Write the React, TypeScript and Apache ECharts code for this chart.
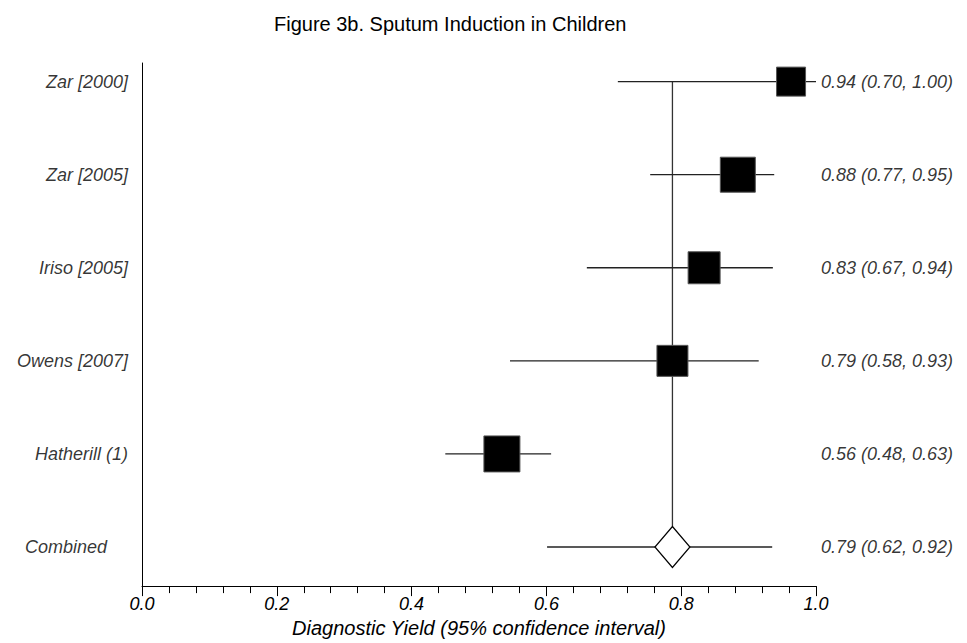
import React, { useEffect, useRef } from "react";
import * as echarts from "echarts";

// ---- data ----
const studies = ["Zar [2000]", "Zar [2005]", "Iriso [2005]", "Owens [2007]", "Hatherill (1)"];
const estimates = [0.963, 0.884, 0.834, 0.787, 0.534];
const lowerCI = [0.706, 0.754, 0.66, 0.546, 0.45];
const upperCI = [1.0, 0.938, 0.936, 0.915, 0.607];
const weights = [29, 35, 32, 31, 36];
const ciLabels = [
  "0.94 (0.70, 1.00)",
  "0.88 (0.77, 0.95)",
  "0.83 (0.67, 0.94)",
  "0.79 (0.58, 0.93)",
  "0.56 (0.48, 0.63)",
];
const combinedName = "Combined";
const combinedEstimate = 0.787;
const combinedLower = 0.601;
const combinedUpper = 0.935;
const combinedLabel = "0.79 (0.62, 0.92)";
const xMin = 0;
const xMax = 1.0;
const xInterval = 0.2;

const FONT = "'Liberation Sans', Arial, sans-serif";

export default function App() {
  const ref = useRef<HTMLDivElement>(null);

  useEffect(() => {
    document.body.style.margin = "0";
    if (!ref.current) return;
    const chart = echarts.init(ref.current, null, { renderer: "svg" });

    const allNames = [...studies, combinedName];
    const allLabels = [...ciLabels, combinedLabel];
    const combinedRow = studies.length;

    const studyData = studies.map((_, i) => [estimates[i], lowerCI[i], upperCI[i], i, weights[i]]);
    const combinedData = [[combinedEstimate, combinedLower, combinedUpper, combinedRow]];

    const labelStyle = {
      fontFamily: FONT,
      fontStyle: "italic",
      fontSize: 18,
      color: "#000",
    };

    const option: any = {
      animation: false,
      backgroundColor: "#fff",
      title: {
        text: "Figure 3b. Sputum Induction in Children",
        left: 269,
        top: 9,
        textStyle: { fontFamily: FONT, fontSize: 20, fontWeight: "normal", color: "#000" },
      },
      grid: { left: 142, right: 151, top: 63, bottom: 55 },
      xAxis: {
        type: "value",
        position: "bottom",
        min: xMin,
        max: xMax,
        interval: xInterval,
        axisLine: { show: true, onZero: false, lineStyle: { color: "#000", width: 1 } },
        axisTick: { show: true, length: 10, lineStyle: { color: "#000" } },
        minorTick: { show: true, splitNumber: 5, length: 7, lineStyle: { color: "#000" } },
        splitLine: { show: false },
        axisLabel: { ...labelStyle, margin: 9, formatter: (v: number) => v.toFixed(1) },
        name: "Diagnostic Yield (95% confidence interval)",
        nameLocation: "middle",
        nameGap: 30,
        nameTextStyle: { ...labelStyle, fontSize: 20 },
      },
      yAxis: {
        type: "value",
        inverse: true,
        min: -0.2,
        max: 5.42,
        axisLine: { show: true, onZero: false, lineStyle: { color: "#000", width: 1 } },
        axisTick: { show: false },
        axisLabel: { show: false },
        splitLine: { show: false },
      },
      series: [
        {
          type: "custom",
          z: 2,
          clip: false,
          data: combinedData,
          encode: { x: [0, 1, 2], y: 3 },
          renderItem: (params: any, api: any) => {
            const row = api.value(3);
            const est = api.coord([api.value(0), row]);
            const lo = api.coord([api.value(1), row]);
            const hi = api.coord([api.value(2), row]);
            const top = api.coord([api.value(0), 0]);
            const hw = 17.5;
            const hh = 20.5;
            return {
              type: "group",
              children: [
                {
                  type: "line",
                  shape: { x1: top[0], y1: top[1], x2: est[0], y2: est[1] - hh },
                  style: { stroke: "#333", lineWidth: 1.3 },
                },
                {
                  type: "line",
                  shape: { x1: lo[0], y1: lo[1], x2: hi[0], y2: hi[1] },
                  style: { stroke: "#222", lineWidth: 1.3 },
                },
                {
                  type: "polygon",
                  shape: {
                    points: [
                      [est[0], est[1] - hh],
                      [est[0] + hw, est[1]],
                      [est[0], est[1] + hh],
                      [est[0] - hw, est[1]],
                    ],
                  },
                  style: { fill: "#fff", stroke: "#000", lineWidth: 1.2 },
                },
              ],
            };
          },
        },
        {
          type: "custom",
          z: 3,
          clip: false,
          data: studyData,
          encode: { x: [0, 1, 2], y: 3 },
          renderItem: (params: any, api: any) => {
            const row = api.value(3);
            const est = api.coord([api.value(0), row]);
            const lo = api.coord([api.value(1), row]);
            const hi = api.coord([api.value(2), row]);
            const s = api.value(4);
            return {
              type: "group",
              children: [
                {
                  type: "line",
                  shape: { x1: lo[0], y1: lo[1], x2: hi[0], y2: hi[1] },
                  style: { stroke: "#222", lineWidth: 1.3 },
                },
                {
                  type: "rect",
                  shape: { x: est[0] - s / 2, y: est[1] - s / 2, width: s, height: s },
                  style: { fill: "#000", stroke: "#555", lineWidth: 1 },
                },
              ],
            };
          },
        },
        {
          type: "scatter",
          z: 4,
          clip: false,
          symbolSize: 0,
          silent: true,
          data: allNames.map((name, i) => ({
            value: [xMin, i],
            name,
            label: { distance: i === combinedRow ? 35 : 14 },
          })),
          label: {
            show: true,
            position: "left",
            formatter: (p: any) => p.name,
            ...labelStyle,
          },
        },
        {
          type: "scatter",
          z: 4,
          clip: false,
          symbolSize: 0,
          silent: true,
          data: allLabels.map((txt, i) => ({ value: [xMax, i], name: txt })),
          label: {
            show: true,
            position: "right",
            distance: 5,
            formatter: (p: any) => p.name,
            ...labelStyle,
          },
        },
      ],
    };

    chart.setOption(option);
    return () => chart.dispose();
  }, []);

  return <div ref={ref} style={{ width: 967, height: 643 }} />;
}
